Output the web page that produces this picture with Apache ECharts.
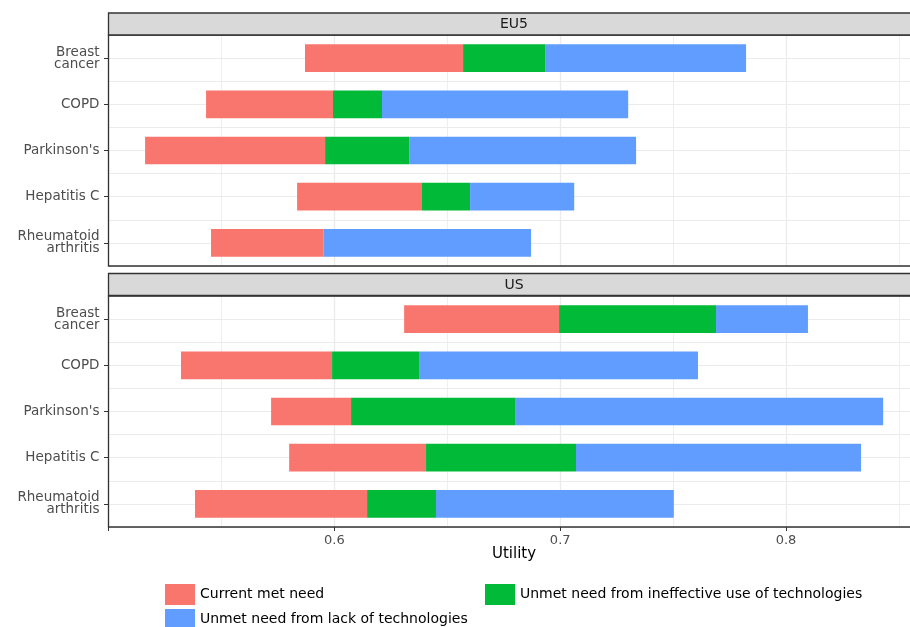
<!DOCTYPE html>
<html><head><meta charset="utf-8">
<script src="https://cdn.jsdelivr.net/npm/echarts@6/dist/echarts.min.js"></script>
<style>html,body{margin:0;padding:0;background:#fff;overflow:hidden}#c{width:910px;height:627px}</style>
</head><body><div id="c"></div>
<script>
// ---- data ----
const categories = ['Breast\ncancer', 'COPD', "Parkinson's", 'Hepatitis C', 'Rheumatoid\narthritis'];
const panels = ['EU5', 'US'];
const seriesNames = ['Current met need', 'Unmet need from ineffective use of technologies', 'Unmet need from lack of technologies'];
const seriesColors = ['#F8766D', '#00BA38', '#619CFF'];
const xTickLabels = [0.6, 0.7, 0.8];
const axisTitle = 'Utility';

// EU5: baseline start, then segment lengths
const eu5Start = [0.5870, 0.5432, 0.5162, 0.5835, 0.5454];
const eu5Met = [0.0700, 0.0562, 0.0797, 0.0553, 0.0499];
const eu5Ineffective = [0.0363, 0.0217, 0.0372, 0.0213, 0.0000];
const eu5Lack = [0.0890, 0.1090, 0.1005, 0.0461, 0.0918];

// US
const usStart = [0.6309, 0.5321, 0.5720, 0.5800, 0.5383];
const usMet = [0.0686, 0.0669, 0.0354, 0.0606, 0.0762];
const usIneffective = [0.0695, 0.0385, 0.0726, 0.0664, 0.0305];
const usLack = [0.0407, 0.1235, 0.1630, 0.1262, 0.1053];

const panelData = [
  [eu5Start, eu5Met, eu5Ineffective, eu5Lack],
  [usStart, usMet, usIneffective, usLack]
];

// ---- layout ----
const FONT = '"DejaVu Sans", "Liberation Sans", sans-serif';
const gridLeft = 108.5;
const gridWidth = 903.4;
const gridTops = [35, 296];
const gridHeight = 231;
const stripTops = [13, 273.5];

const chart = echarts.init(document.getElementById('c'), null, {renderer: 'canvas'});

const grids = gridTops.map(t => ({
  left: gridLeft, top: t, width: gridWidth, height: gridHeight,
  show: true, backgroundColor: '#fff', borderWidth: 0,
  containLabel: false, outerBoundsMode: 'none'
}));

const isMajor = v => xTickLabels.some(t => Math.abs(t - v) < 1e-9);

const xAxes = [];
// minor + major grid lines (bars bound to these)
panels.forEach((p, i) => {
  xAxes.push({
    type: 'value', gridIndex: i, min: 0.5, max: 0.9, interval: 0.05,
    axisLine: {show: false}, axisTick: {show: false}, axisLabel: {show: false},
    splitLine: {show: true, lineStyle: {color: '#ebebeb', width: 0.8}}
  });
});
// major lines, ticks and labels
panels.forEach((p, i) => {
  xAxes.push({
    type: 'value', gridIndex: i, min: 0.5, max: 0.9, interval: 0.1, position: 'bottom',
    axisLine: {show: false},
    axisTick: {show: i === 1, length: 4, lineStyle: {color: '#333', width: 1}},
    axisLabel: {
      show: i === 1, margin: 7, color: '#4d4d4d', fontSize: 13, fontFamily: FONT,
      formatter: v => (isMajor(v) ? Number(v).toFixed(1) : '')
    },
    splitLine: {show: true, lineStyle: {color: '#ebebeb', width: 1.3}}
  });
});

const yAxes = [];
panels.forEach((p, i) => {
  yAxes.push({
    type: 'category', gridIndex: i, data: categories, inverse: true,
    axisLine: {show: false},
    axisTick: {show: true, alignWithLabel: true, length: 4.5, lineStyle: {color: '#333', width: 1}},
    axisLabel: {margin: 9, color: '#4d4d4d', fontSize: 13.5, fontFamily: FONT, lineHeight: 12, align: 'right'},
    splitLine: {show: false}
  });
});
panels.forEach((p, i) => {
  yAxes.push({
    type: 'value', gridIndex: i, min: 0, max: 10, interval: 1, position: 'left',
    axisLine: {show: false}, axisTick: {show: false}, axisLabel: {show: false},
    splitLine: {show: true, lineStyle: {color: '#ebebeb', width: 1.1}}
  });
});

const series = [];
panels.forEach((p, i) => {
  const d = panelData[i];
  series.push({
    name: 'base' + i, type: 'bar', stack: 'st' + i, xAxisIndex: i, yAxisIndex: i,
    data: d[0], barWidth: '60%', silent: true,
    itemStyle: {color: 'rgba(0,0,0,0)'}, emphasis: {disabled: true}
  });
  seriesNames.forEach((n, k) => {
    series.push({
      name: n, type: 'bar', stack: 'st' + i, xAxisIndex: i, yAxisIndex: i,
      data: d[k + 1], barWidth: '60%',
      itemStyle: {color: seriesColors[k]}, emphasis: {disabled: true}
    });
  });
});

const legendPos = [[165, 584], [485, 584], [165, 609]];
const legends = seriesNames.map((n, k) => ({
  data: [n], left: legendPos[k][0], top: legendPos[k][1], padding: 0,
  icon: 'rect', itemWidth: 30, itemHeight: 21, itemGap: 0, selectedMode: false,
  textStyle: {color: '#000', fontSize: 14, fontFamily: FONT}
}));

const graphics = [];
panels.forEach((p, i) => {
  // panel border on top of grid lines
  graphics.push({
    type: 'rect', z: 20, silent: true,
    shape: {x: gridLeft, y: gridTops[i], width: gridWidth, height: gridHeight},
    style: {fill: null, stroke: '#333', lineWidth: 1.3}
  });
  graphics.push({
    type: 'rect', z: 21, silent: true, shape: {x: gridLeft, y: stripTops[i], width: 900, height: 22},
    style: {fill: '#d9d9d9', stroke: '#333', lineWidth: 1.3}
  });
  graphics.push({
    type: 'text', z: 22, silent: true, x: 514, y: stripTops[i] + 11.5,
    style: {text: p, fill: '#1a1a1a', fontSize: 14, fontFamily: FONT, align: 'center', verticalAlign: 'middle'}
  });
});
graphics.push({
  type: 'text', z: 22, silent: true, x: 514, y: 554,
  style: {text: axisTitle, fill: '#000', fontSize: 15, fontFamily: FONT, align: 'center', verticalAlign: 'middle'}
});

chart.setOption({
  animation: false,
  backgroundColor: '#fff',
  grid: grids,
  xAxis: xAxes,
  yAxis: yAxes,
  series: series,
  legend: legends,
  graphic: graphics
});
</script></body></html>
